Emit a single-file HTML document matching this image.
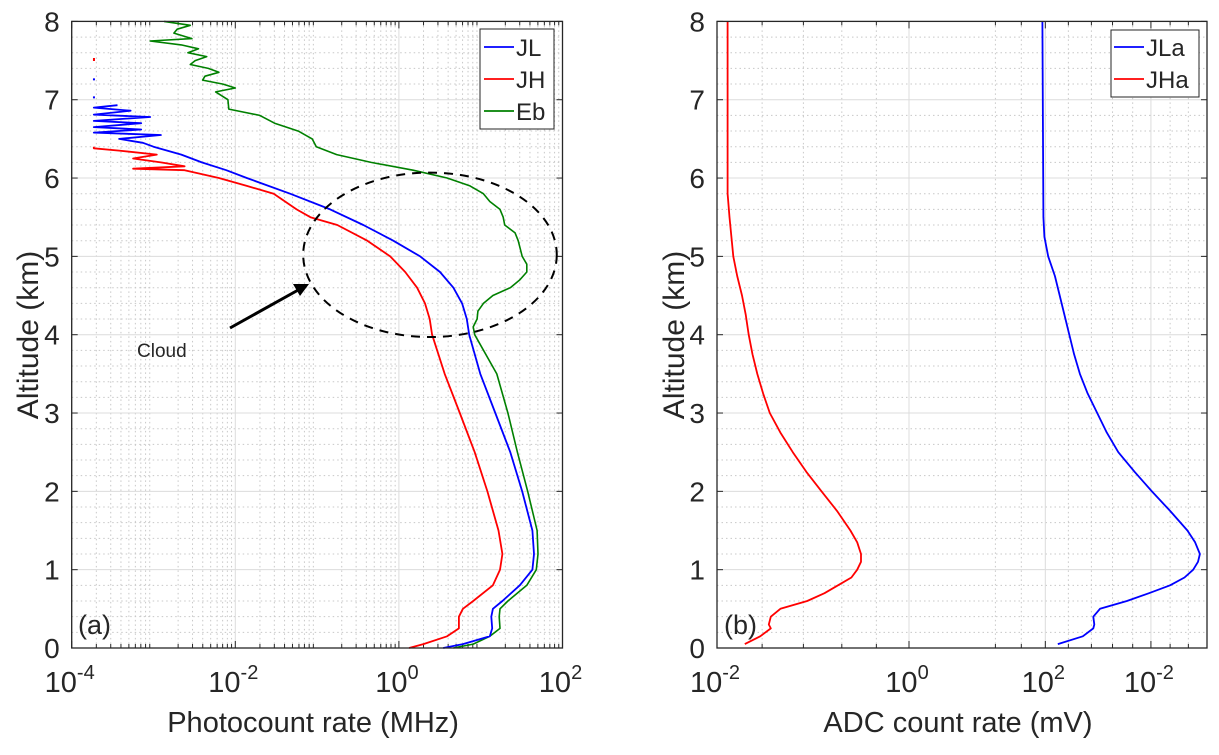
<!DOCTYPE html>
<html><head><meta charset="utf-8"><style>
body{margin:0;background:#fff;}
svg text{font-family:"Liberation Sans",sans-serif;fill:#262626;}
</style></head><body>
<svg id="fig" width="1219" height="750" viewBox="0 0 1219 750" xmlns="http://www.w3.org/2000/svg"></svg>
<script>
// ---- Data (altitude in km, values as log10 of rate) ----
const jlAlt = [0,0.05,0.15,0.25,0.4,0.5,0.6,0.8,1.0,1.2,1.5,2,2.5,3,3.5,4,4.2,4.4,4.6,4.8,5,5.2,5.4,5.6,5.8,6.0,6.1,6.2,6.3,6.4,6.45,6.5,6.55,6.58,6.62,6.65,6.7,6.73,6.78,6.81,6.86,6.9,6.93];
const jlLog = [0.541,0.782,1.111,1.140,1.130,1.149,1.265,1.478,1.632,1.651,1.632,1.507,1.362,1.178,0.995,0.859,0.830,0.773,0.666,0.502,0.261,-0.068,-0.435,-0.840,-1.33,-1.86,-2.11,-2.41,-2.66,-3.0,-3.13,-3.42,-2.91,-3.73,-3.15,-3.73,-3.15,-3.73,-3.04,-3.73,-3.28,-3.73,-3.44];
const jhAlt = [0,0.05,0.15,0.25,0.4,0.5,0.6,0.8,1.0,1.2,1.5,2,2.5,3,3.5,4,4.2,4.4,4.6,4.8,5.0,5.2,5.4,5.5,5.6,5.8,5.9,6.0,6.1,6.12,6.15,6.2,6.25,6.3,6.35,6.38,6.4];
const jhLog = [0.125,0.299,0.589,0.734,0.734,0.782,0.908,1.149,1.236,1.265,1.217,1.082,0.927,0.744,0.560,0.406,0.377,0.319,0.222,0.077,-0.106,-0.386,-0.753,-1.082,-1.25,-1.53,-1.86,-2.20,-2.62,-3.25,-2.62,-2.91,-3.25,-2.96,-3.42,-3.73,-3.73];
const ebAlt = [0,0.05,0.15,0.25,0.4,0.5,0.6,0.8,1.0,1.2,1.5,2,2.5,3,3.5,4,4.1,4.2,4.3,4.4,4.5,4.6,4.7,4.8,4.9,5.0,5.2,5.3,5.4,5.5,5.6,5.7,5.8,5.9,6.0,6.1,6.2,6.3,6.4,6.5,6.6,6.7,6.8,6.88,7.0,7.1,7.15,7.2,7.25,7.3,7.35,7.4,7.45,7.5,7.55,7.6,7.65,7.7,7.75,7.78,7.85,7.9,7.95,8.0];
const ebLog = [0.666,0.908,1.111,1.236,1.226,1.236,1.333,1.564,1.680,1.700,1.690,1.574,1.449,1.333,1.197,0.927,0.908,0.956,0.966,1.033,1.149,1.362,1.478,1.564,1.564,1.507,1.458,1.420,1.294,1.275,1.236,1.111,1.033,0.869,0.589,0.174,-0.34,-0.76,-1.01,-1.06,-1.23,-1.52,-1.70,-2.08,-2.09,-2.24,-2.0,-2.15,-2.4,-2.37,-2.2,-2.33,-2.55,-2.49,-2.35,-2.58,-2.45,-2.66,-3.04,-2.53,-2.75,-2.71,-2.55,-2.87];
const jhaAlt = [0.05,0.15,0.25,0.3,0.4,0.5,0.6,0.7,0.8,0.9,1.0,1.1,1.2,1.35,1.5,1.75,2,2.25,2.5,2.75,3,3.25,3.5,3.75,4,4.25,4.5,4.75,5,5.25,5.5,5.8,8];
const jhaU = [-1.71,-1.55,-1.44,-1.46,-1.44,-1.34,-1.06,-0.88,-0.74,-0.60,-0.54,-0.50,-0.50,-0.54,-0.61,-0.75,-0.91,-1.07,-1.21,-1.34,-1.45,-1.52,-1.58,-1.63,-1.67,-1.70,-1.74,-1.79,-1.83,-1.85,-1.87,-1.89,-1.89];
const jlaAlt = [0.05,0.15,0.25,0.3,0.4,0.5,0.6,0.7,0.8,0.9,1.0,1.1,1.2,1.35,1.5,1.75,2,2.25,2.5,2.75,3,3.25,3.5,3.75,4,4.25,4.5,4.75,5,5.25,5.5,8];
const jlaU = [1.55,1.81,1.92,1.93,1.92,1.99,2.27,2.50,2.72,2.87,2.96,3.01,3.03,2.98,2.90,2.72,2.53,2.35,2.18,2.06,1.96,1.86,1.78,1.72,1.67,1.62,1.57,1.52,1.45,1.41,1.40,1.39];
const leftTicks = [-4,-2,0,2];
const leftTickLabels = ["-4","-2","0","2"];
const rightTicks = [-2,0,1.42,2.52];
const rightTickExp = ["-2","0","2","-2"];
const rightMinor = [-1.53,-1.10,-0.70,-0.34,0.90,1.17,1.66,1.90,2.12,2.33,2.72,2.91];
const yTicks = [0,1,2,3,4,5,6,7,8];

const NS="http://www.w3.org/2000/svg";
const svg=document.getElementById('fig');
function el(tag,attrs,parent){const e=document.createElementNS(NS,tag);for(const k in attrs)e.setAttribute(k,attrs[k]);(parent||svg).appendChild(e);return e;}

const Y0=648, Y1=21.4;
function yS(a){return Y0-(a/8)*(Y0-Y1);}
const L={x0:71.7,x1:562.5,min:-4,max:2};
const R={x0:717,x1:1207,min:-2,max:(1207-717)/96-2};
function xL(v){return L.x0+(v-L.min)/(L.max-L.min)*(L.x1-L.x0);}
function xR(v){return R.x0+(v-R.min)/(R.max-R.min)*(R.x1-R.x0);}

function panel(P,name){
  const g=el('g',{});
  
  
  for(let i=1;i<40;i++){ if(i%5===0) continue; const a=i*0.2;
    el('line',{x1:P.x0,x2:P.x1,y1:yS(a),y2:yS(a),stroke:'#c8c8c8','stroke-width':1,'stroke-dasharray':'1.5,3'},g);}
  return g;
}
function axesFrame(P,g){
  el('rect',{x:P.x0,y:Y1,width:P.x1-P.x0,height:Y0-Y1,fill:'none',stroke:'#262626','stroke-width':1.3},g);
  yTicks.forEach(t=>{
    el('line',{x1:P.x0,x2:P.x0+6,y1:yS(t),y2:yS(t),stroke:'#262626'},g);
    el('line',{x1:P.x1,x2:P.x1-6,y1:yS(t),y2:yS(t),stroke:'#262626'},g);
    const tx=el('text',{x:P.x0-12,y:yS(t)+10,'font-size':28,'text-anchor':'end'},g);tx.textContent=t;
    
    
  });
}
function line(g,xs,alts,vals,color,name,w){
  const d=alts.map((a,i)=>(i?'L':'M')+xs(vals[i]).toFixed(1)+','+yS(a).toFixed(1)).join('');
  const p=el('path',{d:d,fill:'none',stroke:color,'stroke-width':w||1.8,'stroke-linejoin':'round'},g);
  
  
}
// ---------- Left panel ----------
const gL=panel(L,'panel-a');
for(let d=L.min;d<L.max;d++){for(let m=2;m<=9;m++){const x=xL(d+Math.log10(m));
  el('line',{x1:x,x2:x,y1:Y1,y2:Y0,stroke:'#c8c8c8','stroke-dasharray':'1.5,3'},gL);
  el('line',{x1:x,x2:x,y1:Y0,y2:Y0-4,stroke:'#262626'},gL);el('line',{x1:x,x2:x,y1:Y1,y2:Y1+4,stroke:'#262626'},gL);}}
for(let a=1;a<8;a++) el('line',{x1:L.x0,x2:L.x1,y1:yS(a),y2:yS(a),stroke:'#dcdcdc'},gL);
leftTicks.forEach((t,i)=>{const x=xL(t);
  el('line',{x1:x,x2:x,y1:Y1,y2:Y0,stroke:'#dcdcdc'},gL);
  el('line',{x1:x,x2:x,y1:Y0,y2:Y0-7,stroke:'#262626'},gL);el('line',{x1:x,x2:x,y1:Y1,y2:Y1+7,stroke:'#262626'},gL);
  const tx=el('text',{x:x-2,y:692,'font-size':29,'text-anchor':'middle'},gL);
  tx.innerHTML='10<tspan dy="-13" font-size="20">'+leftTickLabels[i]+'</tspan>';
  
  
});
line(gL,xL,ebAlt,ebLog,'#008000','series-eb',1.6);
line(gL,xL,jhAlt,jhLog,'#ff0000','series-jh',1.8);
line(gL,xL,jlAlt,jlLog,'#0000ff','series-jl',1.8);
el('rect',{x:xL(-3.74),y:yS(7.52)-1,width:2,height:3,fill:'#f00'},gL);
el('rect',{x:xL(-3.74),y:yS(7.26)-1,width:2,height:2,fill:'#00f'},gL);
el('rect',{x:xL(-3.74),y:yS(7.03)-1,width:2,height:2,fill:'#00f'},gL);
axesFrame(L,gL);
const ell=el('ellipse',{cx:xL(0.38),cy:yS(5.02),rx:xL(0.38+1.55)-xL(0.38),ry:yS(5.02-1.05)-yS(5.02),fill:'none',stroke:'#000','stroke-width':2,'stroke-dasharray':'9,7'},gL);


const arr=el('g',{},gL);


el('line',{x1:230,y1:328,x2:300,y2:289,stroke:'#000','stroke-width':3},arr);
el('polygon',{points:'309,284 293,284 300,296',fill:'#000'},arr);
let t=el('text',{x:137,y:357,'font-size':19,fill:'#000'},gL);t.textContent='Cloud';

t=el('text',{x:78,y:634,'font-size':27,fill:'#000'},gL);t.textContent='(a)';

const lg=el('g',{},gL);


el('rect',{x:480,y:29,width:74,height:100,fill:'#fff',stroke:'#262626','stroke-width':1},lg);
[['JL','#0000ff'],['JH','#ff0000'],['Eb','#008000']].forEach((e,i)=>{const y=47+i*32;
  el('line',{x1:484,x2:514,y1:y,y2:y,stroke:e[1],'stroke-width':1.8},lg);
  const tx=el('text',{x:516,y:y+9,'font-size':24,fill:'#000'},lg);tx.textContent=e[0];
  });
t=el('text',{x:L.x0+(L.x1-L.x0)/2-4,y:732,'font-size':29,'text-anchor':'middle'},gL);t.textContent='Photocount rate (MHz)';

t=el('text',{x:0,y:0,'font-size':30,'text-anchor':'middle',transform:'translate(38,335) rotate(-90)'},gL);t.textContent='Altitude (km)';


// ---------- Right panel ----------
const gR=panel(R,'panel-b');
rightMinor.forEach(u=>{const x=xR(u);
  el('line',{x1:x,x2:x,y1:Y1,y2:Y0,stroke:'#c8c8c8','stroke-dasharray':'1.5,3'},gR);
  el('line',{x1:x,x2:x,y1:Y0,y2:Y0-4,stroke:'#262626'},gR);el('line',{x1:x,x2:x,y1:Y1,y2:Y1+4,stroke:'#262626'},gR);});
for(let a=1;a<8;a++) el('line',{x1:R.x0,x2:R.x1,y1:yS(a),y2:yS(a),stroke:'#dcdcdc'},gR);
rightTicks.forEach((u,i)=>{const x=xR(u);
  el('line',{x1:x,x2:x,y1:Y1,y2:Y0,stroke:'#dcdcdc'},gR);
  el('line',{x1:x,x2:x,y1:Y0,y2:Y0-7,stroke:'#262626'},gR);el('line',{x1:x,x2:x,y1:Y1,y2:Y1+7,stroke:'#262626'},gR);
  const tx=el('text',{x:x-2,y:692,'font-size':29,'text-anchor':'middle'},gR);
  tx.innerHTML='10<tspan dy="-13" font-size="20">'+rightTickExp[i]+'</tspan>';
  
  
});
line(gR,xR,jhaAlt,jhaU,'#ff0000','series-jha',1.8);
line(gR,xR,jlaAlt,jlaU,'#0000ff','series-jla',1.8);
axesFrame(R,gR);
t=el('text',{x:724,y:634,'font-size':27,fill:'#000'},gR);t.textContent='(b)';

const lg2=el('g',{},gR);


el('rect',{x:1111,y:30,width:88,height:67,fill:'#fff',stroke:'#262626','stroke-width':1},lg2);
[['JLa','#0000ff'],['JHa','#ff0000']].forEach((e,i)=>{const y=47+i*32;
  el('line',{x1:1114,x2:1144,y1:y,y2:y,stroke:e[1],'stroke-width':1.8},lg2);
  const tx=el('text',{x:1146,y:y+9,'font-size':24,fill:'#000'},lg2);tx.textContent=e[0];
  });
t=el('text',{x:R.x0+(R.x1-R.x0)/2-4,y:732,'font-size':29,'text-anchor':'middle'},gR);t.textContent='ADC count rate (mV)';

t=el('text',{x:0,y:0,'font-size':30,'text-anchor':'middle',transform:'translate(684,335) rotate(-90)'},gR);t.textContent='Altitude (km)';

</script>
</body></html>
